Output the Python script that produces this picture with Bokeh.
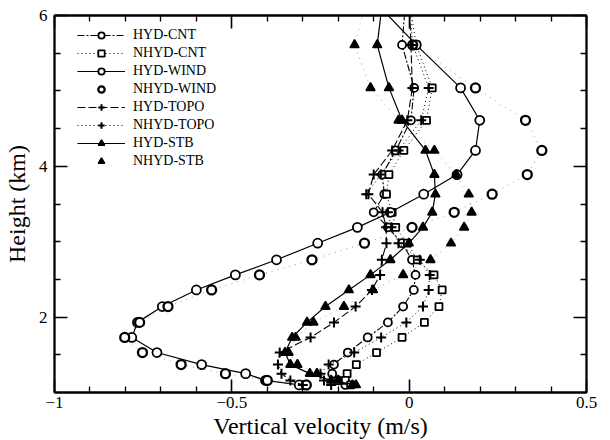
from bokeh.plotting import figure
from bokeh.models import (FixedTicker, LinearAxis, Legend, LegendItem, Range1d, ColumnDataSource,
                          CustomJSTickFormatter)
from bokeh.embed import file_html
from bokeh.resources import INLINE

# model levels (km); the first level lies just above the plotted range (lines leave through the top)
heights = [6.2, 5.61, 5.04, 4.61, 4.21, 3.89, 3.63, 3.39, 3.19, 2.98, 2.76,
           2.56, 2.36, 2.14, 1.93, 1.73, 1.53, 1.37, 1.25, 1.16, 1.10]

hyd_cnt = [-0.01, -0.02, 0.014, 0.005, -0.038, -0.076, -0.07, -0.10, -0.06, -0.02, 0.008,
           0.018, 0.013, -0.017, -0.06, -0.117, -0.173, -0.212, -0.217, -0.20, -0.18]
nhyd_cnt = [0.0, 0.02, 0.065, 0.049, -0.015, -0.057, -0.064, -0.048, -0.038, -0.005, 0.023,
            0.07, 0.093, 0.084, 0.043, -0.02, -0.092, -0.149, -0.175, -0.18, -0.165]
hyd_wind = [-0.1, 0.02, 0.145, 0.199, 0.187, 0.135, 0.041, -0.053, -0.146, -0.258, -0.374,
            -0.49, -0.6, -0.696, -0.766, -0.782, -0.711, -0.585, -0.461, -0.405, -0.31]
nhyd_wind = [0.0, 0.01, 0.187, 0.328, 0.374, 0.333, 0.234, 0.127, 0.008, -0.126, -0.274,
             -0.422, -0.557, -0.68, -0.76, -0.802, -0.752, -0.643, -0.518, -0.40, -0.29]
hyd_topo = [0.0, 0.005, 0.009, -0.005, -0.048, -0.10, -0.115, -0.075, -0.065, -0.064, -0.077,
            -0.082, -0.105, -0.151, -0.212, -0.278, -0.365, -0.37, -0.36, -0.335, -0.30]
nhyd_topo = [0.0, 0.01, 0.055, 0.034, -0.03, -0.08, -0.121, -0.06, -0.05, -0.03, 0.03,
             0.058, 0.055, 0.039, -0.008, -0.079, -0.155, -0.227, -0.25, -0.24, -0.22]
hyd_stb = [-0.075, -0.09, -0.057, -0.02, 0.046, 0.071, 0.074, 0.065, 0.039, -0.001, -0.053,
           -0.109, -0.17, -0.236, -0.288, -0.33, -0.35, -0.335, -0.28, -0.22, -0.15]
nhyd_stb = [-0.12, -0.154, -0.109, -0.03, 0.071, 0.133, 0.168, 0.176, 0.155, 0.118, 0.06,
            -0.017, -0.102, -0.184, -0.27, -0.32, -0.34, -0.315, -0.26, -0.20, -0.16]

x_major = [-1, -0.5, 0, 0.5]
x_minor = [-0.9, -0.8, -0.7, -0.6, -0.4, -0.3, -0.2, -0.1, 0.1, 0.2, 0.3, 0.4]
y_major = [2, 4, 6]
y_minor = [1.5, 2.5, 3, 3.5, 4.5, 5, 5.5]

FONT = "Liberation Serif"

p = figure(output_backend="svg", toolbar_location=None,
           frame_width=532, frame_height=377,
           x_range=Range1d(-1, 0.5), y_range=Range1d(1, 6),
           min_border_left=54, min_border_right=24, min_border_top=15, min_border_bottom=48)
p.background_fill_color = "white"
p.border_fill_color = "white"
p.outline_line_color = "black"
p.outline_line_width = 1.8
p.grid.visible = False

def style_axis(ax):
    ax.axis_line_color = "black"
    ax.axis_line_width = 1.8
    ax.major_tick_in = 13
    ax.major_tick_out = 0
    ax.minor_tick_in = 6
    ax.minor_tick_out = 0
    ax.major_tick_line_width = 1.6
    ax.minor_tick_line_width = 1.3
    ax.major_label_text_font = FONT
    ax.major_label_text_font_size = "17px"
    ax.major_label_text_color = "black"
    ax.axis_label_text_font = FONT
    ax.axis_label_text_font_style = "normal"
    ax.axis_label_text_font_size = "24px"
    ax.axis_label_text_color = "black"

xt = FixedTicker(ticks=x_major, minor_ticks=x_minor)
yt = FixedTicker(ticks=y_major, minor_ticks=y_minor)
p.xaxis.ticker = xt
p.yaxis.ticker = yt
p.xaxis.axis_label = "Vertical velocity (m/s)"
p.yaxis.axis_label = "Height (km)"
for ax in p.xaxis + p.yaxis:
    style_axis(ax)
p.xaxis.major_label_standoff = 4
p.yaxis.major_label_standoff = 7
p.xaxis.axis_label_standoff = 2
p.yaxis.axis_label_standoff = 6
p.yaxis.major_label_orientation = "horizontal"

blank = CustomJSTickFormatter(code="return ''")
top = LinearAxis(ticker=xt, formatter=blank, major_label_standoff=0)
right = LinearAxis(ticker=yt, formatter=blank, major_label_standoff=0)
style_axis(top)
style_axis(right)
p.add_layout(top, "above")
p.add_layout(right, "right")

src = ColumnDataSource(dict(h=heights, hyd_cnt=hyd_cnt, nhyd_cnt=nhyd_cnt, hyd_wind=hyd_wind,
                            nhyd_wind=nhyd_wind, hyd_topo=hyd_topo, nhyd_topo=nhyd_topo,
                            hyd_stb=hyd_stb, nhyd_stb=nhyd_stb))

items = []
def series(col, label, marker, dash, lw, show_line_in_legend, size, mlw, fill):
    rs = []
    if dash is not None:
        color = "black" if show_line_in_legend else "#888888"
        lr = p.line(col, "h", source=src, line_color=color, line_width=lw, line_dash=dash)
        if show_line_in_legend:
            rs.append(lr)
    sr = p.scatter(col, "h", source=src, marker=marker, size=size, line_color="black",
                   line_width=mlw, fill_color=fill)
    rs.append(sr)
    items.append(LegendItem(label=label, renderers=rs))

series("hyd_cnt", "HYD-CNT", "circle", "7 2 2 2", 1.1, True, 8, 1.8, "white")
series("nhyd_cnt", "NHYD-CNT", "square", "1 3", 1.0, True, 7, 1.8, "white")
series("hyd_wind", "HYD-WIND", "circle", "solid", 1.2, True, 9, 1.8, "white")
series("nhyd_wind", "NHYD-WIND", "circle", "1 5", 0.8, False, 9, 2.3, "white")
series("hyd_topo", "HYD-TOPO", "cross", "8 3", 1.1, True, 10, 2.0, None)
series("nhyd_topo", "NHYD-TOPO", "cross", "1 3", 1.0, True, 10, 2.0, None)
series("hyd_stb", "HYD-STB", "triangle", "solid", 1.2, True, 9, 1.5, "black")
series("nhyd_stb", "NHYD-STB", "triangle", "1 5", 0.8, False, 9, 1.5, "black")

legend = Legend(items=items, location=(23, 223), orientation="vertical",
                background_fill_alpha=0, border_line_color=None,
                label_text_font=FONT, label_text_font_size="14px", label_text_color="black",
                glyph_width=48, glyph_height=16, label_height=16, label_standoff=8,
                spacing=2, padding=0, margin=0)
p.add_layout(legend, "center")

open("out.html", "w").write(file_html(p, INLINE))
